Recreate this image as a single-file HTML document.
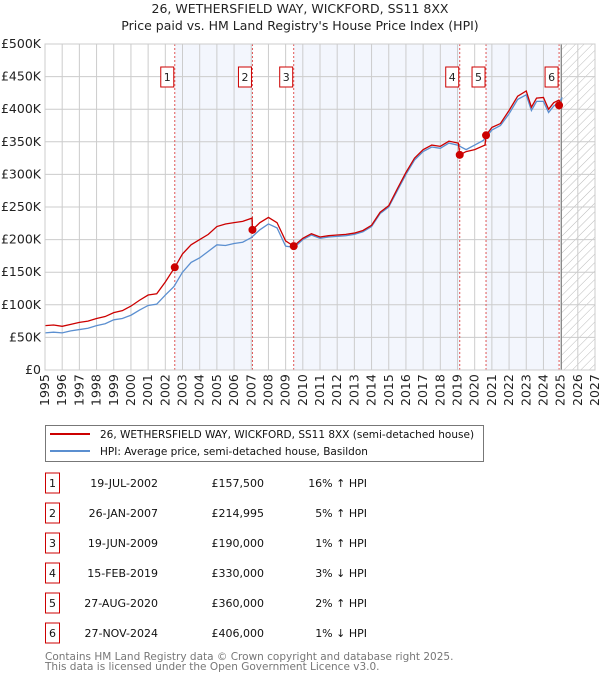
<!DOCTYPE html>
<html><head><meta charset="utf-8"><style>
body{margin:0;background:#fff;font-family:"Liberation Sans","DejaVu Sans",sans-serif;}
svg text{font-family:"DejaVu Sans","Liberation Sans",sans-serif;}
</style></head><body>
<svg id="chart" width="600" height="680" viewBox="0 0 600 680" xmlns="http://www.w3.org/2000/svg">
<defs><pattern id="hatch" width="6" height="6" patternUnits="userSpaceOnUse" patternTransform="rotate(45)"><rect width="6" height="6" fill="#fff"/><line x1="0" y1="0" x2="0" y2="6" stroke="#bbb" stroke-width="1"/></pattern></defs>
<text x="300" y="13" text-anchor="middle" font-size="12.5" fill="#222">26, WETHERSFIELD WAY, WICKFORD, SS11 8XX</text>
<text x="300" y="30" text-anchor="middle" font-size="12.5" fill="#222">Price paid vs. HM Land Registry's House Price Index (HPI)</text>
<g id="plot"></g>
<g>
<rect x="45.5" y="425.5" width="438" height="36" fill="#fff" stroke="#777"/>
<line x1="50" y1="434" x2="90" y2="434" stroke="#cc0000" stroke-width="2"/>
<text x="100" y="438" font-size="10.5" fill="#111">26, WETHERSFIELD WAY, WICKFORD, SS11 8XX (semi-detached house)</text>
<line x1="50" y1="451" x2="90" y2="451" stroke="#5b8fd0" stroke-width="2"/>
<text x="100" y="455" font-size="10.5" fill="#111">HPI: Average price, semi-detached house, Basildon</text>
</g>
<g id="table"></g>
<text x="45" y="660" font-size="10.5" fill="#777">Contains HM Land Registry data © Crown copyright and database right 2025.</text>
<text x="45" y="670" font-size="10.5" fill="#777">This data is licensed under the Open Government Licence v3.0.</text>
</svg>
<script>
const yTicks=[0,50000,100000,150000,200000,250000,300000,350000,400000,450000,500000];
const yTickLabels=["£0","£50K","£100K","£150K","£200K","£250K","£300K","£350K","£400K","£450K","£500K"];
const xYears=[1995,1996,1997,1998,1999,2000,2001,2002,2003,2004,2005,2006,2007,2008,2009,2010,2011,2012,2013,2014,2015,2016,2017,2018,2019,2020,2021,2022,2023,2024,2025,2026,2027];
const hpiDates=[1995,1995.5,1996,1996.5,1997,1997.5,1998,1998.5,1999,1999.5,2000,2000.5,2001,2001.5,2002,2002.5,2003,2003.5,2004,2004.5,2005,2005.5,2006,2006.5,2007,2007.5,2008,2008.5,2009,2009.5,2010,2010.5,2011,2011.5,2012,2012.5,2013,2013.5,2014,2014.5,2015,2015.5,2016,2016.5,2017,2017.5,2018,2018.5,2019,2019.5,2020,2020.5,2021,2021.5,2022,2022.5,2023,2023.3,2023.6,2024,2024.3,2024.6,2024.9,2025.1];
const hpiValues=[57000,58000,57000,60000,62000,64000,68000,71000,77000,79000,84000,92000,99000,101000,115000,128000,150000,165000,172000,182000,192000,191000,194000,196000,203000,215000,224000,218000,190000,188000,200000,207000,202000,204000,205000,206000,208000,212000,220000,240000,250000,275000,300000,322000,335000,342000,340000,348000,345000,338000,345000,352000,368000,375000,393000,415000,422000,398000,412000,412000,395000,405000,410000,418000];
const priceDates=[1995,1995.5,1996,1996.5,1997,1997.5,1998,1998.5,1999,1999.5,2000,2000.5,2001,2001.5,2002,2002.55,2003,2003.5,2004,2004.5,2005,2005.5,2006,2006.5,2007.05,2007.07,2007.5,2008,2008.5,2009,2009.47,2010,2010.5,2011,2011.5,2012,2012.5,2013,2013.5,2014,2014.5,2015,2015.5,2016,2016.5,2017,2017.5,2018,2018.5,2019.05,2019.13,2019.5,2020,2020.6,2020.66,2021,2021.5,2022,2022.5,2023,2023.3,2023.6,2024,2024.3,2024.6,2024.9,2025.1];
const priceValues=[68000,69000,67000,70000,73000,75000,79000,82000,88000,91000,98000,107000,115000,117000,135000,157500,178000,192000,200000,208000,220000,224000,226000,228000,233000,215000,226000,234000,226000,198000,190000,202000,209000,204000,206000,207000,208000,210000,214000,222000,242000,252000,278000,303000,325000,338000,345000,343000,351000,348000,330000,335000,338000,345000,360000,372000,378000,398000,420000,428000,403000,417000,418000,400000,410000,414000,406000];
const saleLabels=["1","2","3","4","5","6"];
const saleDates=[2002.55,2007.07,2009.47,2019.13,2020.66,2024.91];
const saleDateText=["19-JUL-2002","26-JAN-2007","19-JUN-2009","15-FEB-2019","27-AUG-2020","27-NOV-2024"];
const salePrices=[157500,214995,190000,330000,360000,406000];
const salePriceText=["£157,500","£214,995","£190,000","£330,000","£360,000","£406,000"];
const saleHpiText=["16% ↑ HPI","5% ↑ HPI","1% ↑ HPI","3% ↓ HPI","2% ↑ HPI","1% ↓ HPI"];

const NS="http://www.w3.org/2000/svg";
const X0=45,X1=595,Y0=370,Y1=44;
const xs=d=>X0+(d-1995)/(2027-1995)*(X1-X0);
const ys=v=>Y0-v/500000*(Y0-Y1);
const plot=document.getElementById('plot');
function mk(tag,attrs,parent){const e=document.createElementNS(NS,tag);for(const k in attrs)e.setAttribute(k,attrs[k]);(parent||plot).appendChild(e);return e;}

let e=mk('rect',{x:X0,y:Y1,width:X1-X0,height:Y0-Y1,fill:'#fff'});


for(let i=0;i<saleDates.length;i+=2){
  e=mk('rect',{x:xs(saleDates[i]),y:Y1,width:xs(saleDates[i+1])-xs(saleDates[i]),height:Y0-Y1,fill:'#f3f6fd'});
  
  
}
e=mk('rect',{x:xs(2025.05),y:Y1,width:X1-xs(2025.05),height:Y0-Y1,fill:'url(#hatch)'});


yTicks.forEach((t,i)=>{
  e=mk('line',{x1:X0,x2:X1,y1:ys(t),y2:ys(t),stroke:'#ccc','stroke-width':1});
  
  
  e=mk('text',{x:X0-4,y:ys(t)+4,'text-anchor':'end','font-size':'12.5',fill:'#222'});
  e.textContent=yTickLabels[i];
  
  
});
xYears.forEach(yr=>{
  e=mk('line',{x1:xs(yr),x2:xs(yr),y1:Y1,y2:Y0,stroke:'#ccc','stroke-width':1});
  
  
  const x=xs(yr)+4, y=Y0+36;
  e=mk('text',{x:x,y:y,transform:`rotate(-90 ${x} ${y})`,'font-size':'12.5',fill:'#222'});
  e.textContent=yr;
  
  
});
e=mk('line',{x1:xs(2025.05),x2:xs(2025.05),y1:Y1,y2:Y0,stroke:'#888','stroke-width':1});


saleDates.forEach(d=>{
  e=mk('line',{x1:xs(d),x2:xs(d),y1:Y1,y2:Y0,stroke:'#e05555','stroke-width':1,'stroke-dasharray':'2,2'});
  
  
});
e=mk('polyline',{points:hpiDates.map((d,i)=>xs(d)+','+ys(hpiValues[i])).join(' '),fill:'none',stroke:'#5b8fd0','stroke-width':1.3});


e=mk('polyline',{points:priceDates.map((d,i)=>xs(d)+','+ys(priceValues[i])).join(' '),fill:'none',stroke:'#cc0000','stroke-width':1.3});


saleDates.forEach((d,i)=>{
  e=mk('circle',{cx:xs(d),cy:ys(salePrices[i]),r:4,fill:'#cc0000'});
  
  
  const bx=xs(d)-14;
  e=mk('rect',{x:bx,y:67,width:13,height:20,fill:'#fff',stroke:'#cc0000','stroke-width':1});
  
  
  e=mk('text',{x:bx+6.5,y:81,'text-anchor':'middle','font-size':'11',fill:'#222'});
  e.textContent=saleLabels[i];
  
  
});
e=mk('rect',{x:X0,y:Y1,width:X1-X0,height:Y0-Y1,fill:'none',stroke:'#ccc'});


const tb=document.getElementById('table');
saleLabels.forEach((l,i)=>{
  const cy=483+i*30;
  e=mk('rect',{x:45.5,y:cy-10,width:14,height:20,fill:'#fff',stroke:'#cc0000','stroke-width':1},tb);
  
  
  e=mk('text',{x:52.5,y:cy+4,'text-anchor':'middle','font-size':'11',fill:'#111'},tb);
  e.textContent=l;
  
  
  e=mk('text',{x:158,y:cy+4,'text-anchor':'end','font-size':'11',fill:'#111'},tb);
  e.textContent=saleDateText[i];
  
  
  e=mk('text',{x:264,y:cy+4,'text-anchor':'end','font-size':'11',fill:'#111'},tb);
  e.textContent=salePriceText[i];
  
  
  e=mk('text',{x:367,y:cy+4,'text-anchor':'end','font-size':'11',fill:'#111'},tb);
  e.textContent=saleHpiText[i];
  
  
});
</script>
</body></html>
